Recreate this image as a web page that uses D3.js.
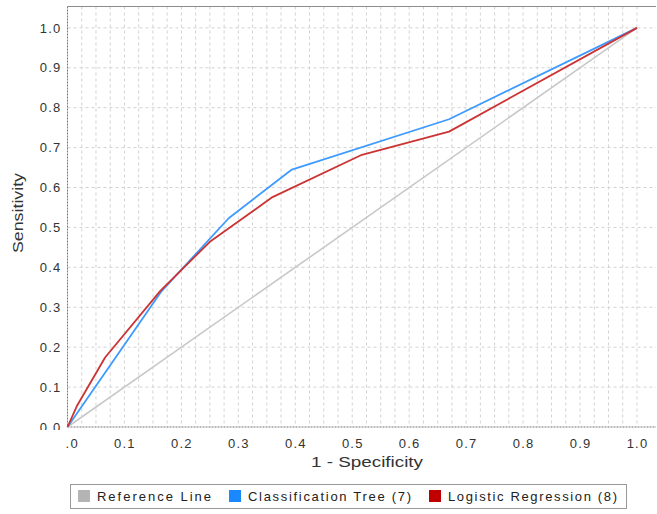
<!DOCTYPE html>
<html>
<head>
<meta charset="utf-8">
<script src="https://cdn.jsdelivr.net/npm/d3@7"></script>
<style>
  body { margin: 0; background: #fff; }
  svg { display: block; font-family: "Liberation Sans", Arial, sans-serif; }
</style>
</head>
<body>
<svg id="chart" width="657" height="514"></svg>
<script>
// ROC curves: false positive rate (1 - specificity) vs sensitivity
const refFpr = [0, 1];
const refTpr = [0, 1];

const treeFpr = [0, 0.165, 0.283, 0.394, 0.670, 1];
const treeTpr = [0, 0.340, 0.523, 0.645, 0.771, 1];

const logitFpr = [0, 0.017, 0.066, 0.163, 0.250, 0.360, 0.517, 0.670, 1];
const logitTpr = [0, 0.054, 0.174, 0.341, 0.464, 0.576, 0.682, 0.740, 1];

const tickValues = [0, 0.1, 0.2, 0.3, 0.4, 0.5, 0.6, 0.7, 0.8, 0.9, 1.0];
const tickLabels = ["0.0", "0.1", "0.2", "0.3", "0.4", "0.5", "0.6", "0.7", "0.8", "0.9", "1.0"];
const minorX = d3.range(0, 41).map(i => i * 0.025);

const seriesNames = ["Reference Line", "Classification Tree (7)", "Logistic Regression (8)"];
const lineColors = ["#c8c8c8", "#3d9bff", "#cc3333"];
const swatchColors = ["#b4b4b4", "#1a88ff", "#c00000"];

const svg = d3.select("#chart");
const plotL = 67.5, plotR = 656, plotT = 6.5, plotB = 427;

const x = d3.scaleLinear().domain([0, 1.0334]).range([plotL, plotR]);
const y = d3.scaleLinear().domain([0, 1.0535]).range([plotB, plotT]);

// grid
svg.append("g").selectAll("line").data(minorX.filter(d => d > 0)).join("line")
  .attr("x1", d => x(d)).attr("x2", d => x(d))
  .attr("y1", plotT).attr("y2", plotB)
  .attr("stroke", "#d2d2d2").attr("stroke-width", 1).attr("stroke-dasharray", "3,3");
svg.append("g").selectAll("line").data(tickValues.filter(d => d > 0)).join("line")
  .attr("x1", plotL).attr("x2", plotR)
  .attr("y1", d => y(d)).attr("y2", d => y(d))
  .attr("stroke", "#d2d2d2").attr("stroke-width", 1).attr("stroke-dasharray", "3,3");

// plot border lines
svg.append("line").attr("x1", plotL).attr("x2", plotR).attr("y1", plotT).attr("y2", plotT)
  .attr("stroke", "#8c8c8c").attr("stroke-width", 1.2);
svg.append("line").attr("x1", plotL).attr("x2", plotL).attr("y1", plotT).attr("y2", plotB)
  .attr("stroke", "#777").attr("stroke-width", 1).attr("stroke-dasharray", "2,1");
svg.append("line").attr("x1", plotL).attr("x2", plotR).attr("y1", plotB).attr("y2", plotB)
  .attr("stroke", "#777").attr("stroke-width", 1).attr("stroke-dasharray", "2,1");

// clip regions for the tick labels (applied on untransformed wrapper groups)
const defs = svg.append("defs");
defs.append("clipPath").attr("id", "xclip").append("rect")
  .attr("x", 66).attr("y", 428).attr("width", 600).attr("height", 30);
defs.append("clipPath").attr("id", "yclip").append("rect")
  .attr("x", 0).attr("y", 0).attr("width", 67).attr("height", 430);

const xAxis = d3.axisBottom(x).tickValues(tickValues)
  .tickFormat((d, i) => tickLabels[i]).tickSize(0).tickPadding(12);
const gx = svg.append("g").attr("clip-path", "url(#xclip)")
  .append("g").attr("transform", `translate(0,${plotB})`).call(xAxis);
gx.select(".domain").remove();
gx.selectAll("text").attr("font-size", 13).attr("fill", "#333")
  .attr("letter-spacing", "1.2px").attr("font-family", "Liberation Sans, Arial, sans-serif");

const yAxis = d3.axisLeft(y).tickValues(tickValues)
  .tickFormat((d, i) => tickLabels[i]).tickSize(0).tickPadding(6);
const gy = svg.append("g").attr("clip-path", "url(#yclip)")
  .append("g").attr("transform", `translate(${plotL},0)`).call(yAxis);
gy.select(".domain").remove();
gy.selectAll("text").attr("font-size", 13).attr("fill", "#333")
  .attr("letter-spacing", "1.2px").attr("font-family", "Liberation Sans, Arial, sans-serif");

// axis titles
svg.append("text").attr("x", 367).attr("y", 467).attr("text-anchor", "middle")
  .attr("font-size", 15).attr("fill", "#333")
  .attr("textLength", 112).attr("lengthAdjust", "spacingAndGlyphs")
  .text("1 - Specificity");
svg.append("text").attr("transform", "translate(23,213) rotate(-90)")
  .attr("text-anchor", "middle").attr("font-size", 15).attr("fill", "#333")
  .attr("textLength", 80).attr("lengthAdjust", "spacingAndGlyphs")
  .text("Sensitivity");

// curves
const line = d3.line().x(d => x(d[0])).y(d => y(d[1]));
const series = [
  d3.zip(refFpr, refTpr),
  d3.zip(treeFpr, treeTpr),
  d3.zip(logitFpr, logitTpr)
];
svg.append("g").selectAll("path").data(series).join("path")
  .attr("d", line).attr("fill", "none")
  .attr("stroke", (d, i) => lineColors[i])
  .attr("stroke-width", (d, i) => i === 0 ? 1.6 : 1.8)
  .attr("stroke-linejoin", "round");

// legend
const lg = svg.append("g");
lg.append("rect").attr("x", 70.5).attr("y", 484.5).attr("width", 556).attr("height", 24)
  .attr("fill", "#fff").attr("stroke", "#999");
const swatchX = [78, 229, 429];
const textLen = [114, 163, 169];
seriesNames.forEach((name, i) => {
  lg.append("rect").attr("x", swatchX[i]).attr("y", 490).attr("width", 12).attr("height", 12)
    .attr("fill", swatchColors[i]);
  lg.append("text").attr("x", swatchX[i] + 19).attr("y", 501)
    .attr("font-size", 13).attr("fill", "#222")
    .attr("textLength", textLen[i]).attr("lengthAdjust", "spacing")
    .text(name);
});
</script>
</body>
</html>
